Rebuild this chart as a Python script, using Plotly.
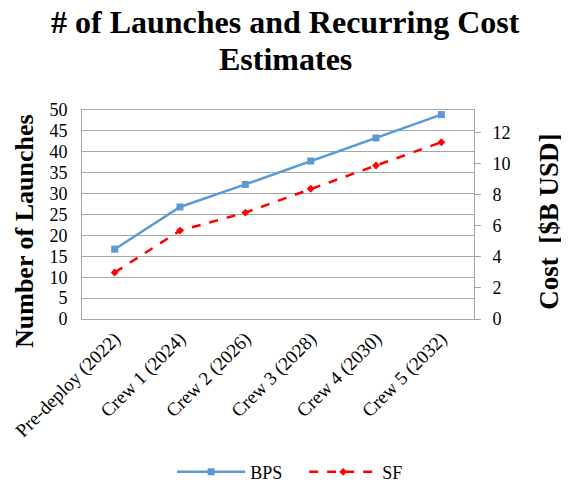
import plotly.graph_objects as go

categories = ['Pre-deploy (2022)', 'Crew 1 (2024)', 'Crew 2 (2026)',
              'Crew 3 (2028)', 'Crew 4 (2030)', 'Crew 5 (2032)']
bps_launches = [16.7, 26.8, 32.2, 37.8, 43.3, 48.9]
sf_cost = [3.0, 5.7, 6.86, 8.4, 9.9, 11.4]
title_lines = ['# of Launches and Recurring Cost', 'Estimates']

serif = 'Liberation Serif'
grid_gray = '#A6A6A6'

def tfont(size):
    return dict(family=serif, size=size, color='black')

fig = go.Figure()
fig.add_trace(go.Scatter(
    x=categories, y=bps_launches, name='BPS', mode='lines+markers',
    line=dict(color='#5B9BD5', width=2.5),
    marker=dict(symbol='square', size=7, color='#5B9BD5'),
))
fig.add_trace(go.Scatter(
    x=categories, y=sf_cost, name='SF', mode='lines+markers', yaxis='y2',
    line=dict(color='#FF0000', width=2.5, dash='dash'),
    marker=dict(symbol='diamond', size=6, color='#FF0000'),
))

# title drawn as two single-line annotations so the spacing matches
title_notes = [
    dict(text=f'<b>{line}</b>', xref='paper', yref='paper', x=0.518, y=ypos,
         xanchor='center', yanchor='middle', showarrow=False, font=tfont(32))
    for line, ypos in zip(title_lines, [1.421, 1.244])
]

fig.update_layout(
    width=569, height=486,
    margin=dict(l=74, r=103, t=102, b=175),
    plot_bgcolor='white', paper_bgcolor='white',
    font=tfont(16),
    xaxis=dict(
        type='category', range=[-0.5, 5.5], tickangle=-45,
        showline=True, linecolor=grid_gray, mirror=True,
        showgrid=False, ticks='', tickfont=tfont(19), automargin=False,
    ),
    yaxis=dict(
        range=[0, 50], dtick=5, showgrid=True, gridcolor=grid_gray,
        showline=True, linecolor=grid_gray, mirror=True, ticks='',
        zeroline=False, tickfont=tfont(18), automargin=False,
        ticklabelstandoff=10,
    ),
    yaxis2=dict(
        overlaying='y', side='right', range=[0, 13.48], dtick=2,
        showgrid=False, zeroline=False, showline=True, linecolor=grid_gray,
        ticks='outside', ticklen=6, tickcolor=grid_gray, tickfont=tfont(18),
        automargin=False, ticklabelstandoff=8,
    ),
    legend=dict(
        orientation='h', x=0.23, xanchor='left',
        yref='container', y=0.045, yanchor='middle',
        font=tfont(18), itemwidth=68, entrywidth=49, entrywidthmode='pixels',
    ),
    annotations=title_notes + [
        dict(text='<b>Number of Launches</b>', textangle=-90,
             xref='paper', yref='paper', x=-0.148, y=0.421,
             xanchor='center', yanchor='middle', showarrow=False,
             font=tfont(26)),
        dict(text='<b>Cost  [$B USD]</b>', textangle=-90,
             xref='paper', yref='paper', x=1.191, y=0.465,
             xanchor='center', yanchor='middle', showarrow=False,
             font=tfont(27)),
    ],
)

fig.write_html('out.html')
